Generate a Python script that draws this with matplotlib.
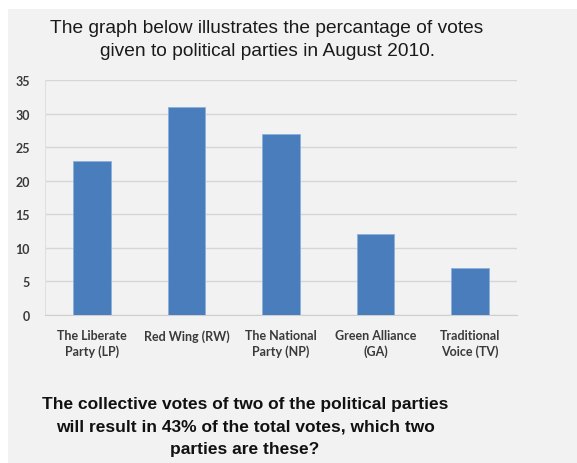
import matplotlib
matplotlib.use("Agg")
import matplotlib.pyplot as plt
from matplotlib.patches import Rectangle

parties = ["The Liberate\nParty (LP)", "Red Wing (RW)", "The National\nParty (NP)",
           "Green Alliance\n(GA)", "Traditional\nVoice (TV)"]
votes = [23, 31, 27, 12, 7]
y_ticks = [0, 5, 10, 15, 20, 25, 30, 35]

W, H = 577, 464
fig = plt.figure(figsize=(W / 100, H / 100), dpi=100)
fig.patch.set_facecolor("white")

# grey panel behind everything
fig.add_artist(Rectangle((8 / W, 0), 1, 1 - 10 / H, transform=fig.transFigure,
                         facecolor="#f2f2f2", edgecolor="none", zorder=0))

ax = fig.add_axes([45 / W, 1 - 316 / H, (517 - 45) / W, (316 - 81) / H])
ax.set_facecolor("none")
x = range(len(parties))
ax.bar(x, votes, width=0.4, color="#4a7dbb", edgecolor="#8ab0dc", linewidth=0.6, zorder=3)
ax.set_xlim(-0.5, len(parties) - 0.5)
ax.set_ylim(0, 35)
ax.set_yticks(y_ticks)
ax.set_xticks(list(x))
ax.set_xticklabels(parties, linespacing=1.35)
ax.yaxis.grid(True, color="#d6d6d6", linewidth=1, zorder=0)
for side in ("top", "right"):
    ax.spines[side].set_visible(False)
ax.spines["left"].set_color("#e0e0e0")
ax.spines["bottom"].set_color("#cfcfcf")
ax.tick_params(axis="both", length=0, colors="#404040")
ax.tick_params(axis="y", pad=11)
ax.tick_params(axis="x", pad=10)
for lab in ax.get_xticklabels() + ax.get_yticklabels():
    lab.set_fontfamily("Lato")
    lab.set_fontweight("bold")
    lab.set_fontsize(9)
    lab.set_color("#3a3a3a")

fig.text(267 / W, 1 - 40 / H,
         "The graph below illustrates the percantage of votes\ngiven to political parties in August 2010.",
         ha="center", va="center", fontsize=13.8, family="Liberation Sans",
         color="#1a1a1a", linespacing=1.4)

fig.text(245 / W, 1 - 427 / H,
         "The collective votes of two of the political parties\nwill result in 43% of the total votes, which two\nparties are these?",
         ha="center", va="center", fontsize=12.5, family="Liberation Sans",
         fontweight="bold", color="#111111", linespacing=1.65)

fig.savefig("out.png", dpi=100)
